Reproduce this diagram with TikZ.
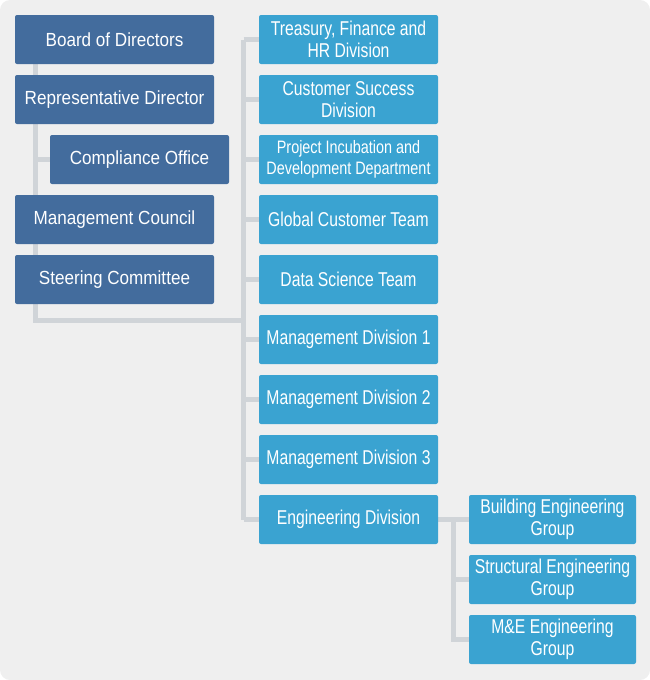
\documentclass[tikz,border=0pt]{standalone}
\usepackage{fontspec}
\setmainfont{Liberation Sans}[FakeStretch=0.9]
\newfontfamily\condfont{Liberation Sans}[FakeStretch=0.785]
\newfontfamily\narrowfont{Liberation Sans}[FakeStretch=0.8]
\usepackage{tikz}
\usetikzlibrary{backgrounds}

\definecolor{boardblue}{HTML}{436C9D}
\definecolor{divblue}{HTML}{3AA3D1}
\definecolor{linkgray}{HTML}{D0D4D8}
\definecolor{paper}{HTML}{EFEFEF}

\begin{document}
\begin{tikzpicture}[x=1pt,y=-1pt,
  box/.style={rounded corners=2pt,text=white,align=center,inner sep=0pt,
    minimum height=49pt},
  exec/.style={box,fill=boardblue,minimum width=199pt,
    font=\fontsize{19}{21.5}\selectfont},
  comp/.style={exec,minimum width=179pt},
  div/.style={box,fill=divblue,minimum width=179pt,
    font=\condfont\fontsize{20}{21.5}\selectfont},
  grp/.style={div,minimum width=167pt},
  link/.style={draw=linkgray,line width=5pt}]
\useasboundingbox (0,0) rectangle (650,680);

% Coordinates of the spines
\coordinate (lspine) at (35.5,320.5);
\coordinate (rspine) at (243.5,320.5);
\coordinate (espine) at (453,520);

% Executive column
\node[exec] (board) at (114.5,39.5) {Board of Directors};
\node[exec] (rep) at (114.5,99.5) {Representative Director};
\node[comp] (compliance) at (139.5,159.5) {Compliance Office};
\node[exec] (council) at (114.5,219.5) {Management Council};
\node[exec] (steering) at (114.5,279.5) {Steering Committee};

% Divisions
\node[div] (treasury) at (348.5,39.5) {Treasury, Finance and\\HR Division};
\node[div] (success) at (348.5,99.5) {Customer Success\\Division};
\node[div,font=\narrowfont\fontsize{18}{21.5}\selectfont] (incubation) at (348.5,159.5) {Project Incubation and\\Development Department};
\node[div] (global) at (348.5,219.5) {Global Customer Team};
\node[div] (data) at (348.5,279.5) {Data Science Team};
\node[div] (mgmt1) at (348.5,339.5) {Management Division 1};
\node[div] (mgmt2) at (348.5,399.5) {Management Division 2};
\node[div] (mgmt3) at (348.5,459.5) {Management Division 3};
\node[div] (eng) at (348.5,519.5) {Engineering Division};

% Engineering groups
\node[grp] (building) at (552.5,519.5) {Building Engineering\\Group};
\node[grp] (structural) at (552.5,579.5) {Structural Engineering\\Group};
\node[grp] (mande) at (552.5,639.5) {M\&E Engineering\\Group};

\begin{scope}[on background layer]
% Background panel
\fill[paper,rounded corners=10pt] (0,0) rectangle (650,680);
% Connectors
\draw[link] (board.south -| lspine) -- (lspine) -- (rspine);
\draw[link] (compliance.west -| lspine) -- (compliance.west);
\draw[link] (treasury.west -| rspine) -- (eng.west -| rspine);
\foreach \n in {treasury,success,incubation,global,data,mgmt1,mgmt2,mgmt3,eng}
  \draw[link] (\n.west -| rspine) -- (\n.west);
\draw[link] (eng.east) -- (building.west);
\draw[link] (espine) -- (mande.west -| espine) -- (mande.west);
\draw[link] (structural.west -| espine) -- (structural.west);
\end{scope}
\end{tikzpicture}
\end{document}
